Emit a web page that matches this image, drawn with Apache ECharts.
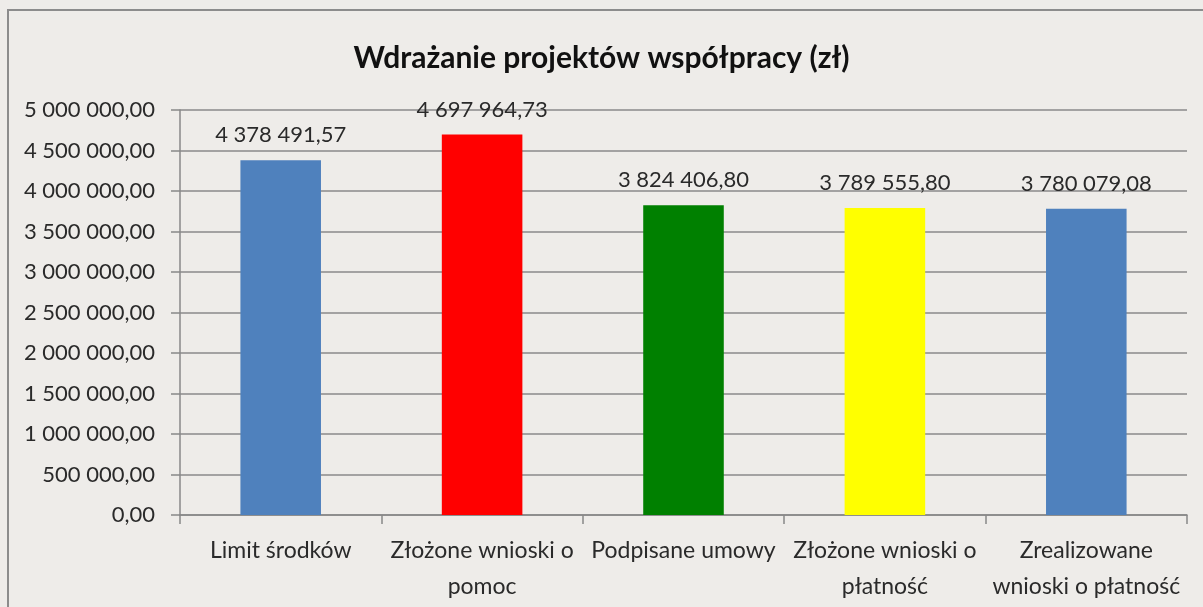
<!DOCTYPE html>
<html>
<head>
<meta charset="utf-8">
<script src="https://cdn.jsdelivr.net/npm/echarts@6/dist/echarts.min.js"></script>
<style>
  html, body { margin: 0; padding: 0; background: #eeece9; }
  #chart { width: 1203px; height: 607px; }
</style>
</head>
<body>
<div id="chart"></div>
<script>
var categories = ['Limit środków', 'Złożone wnioski o\npomoc', 'Podpisane umowy', 'Złożone wnioski o\npłatność', 'Zrealizowane\nwnioski o płatność'];
var values = [4378491.57, 4697964.73, 3824406.80, 3789555.80, 3780079.08];
var barColors = ['#4f81bd', '#ff0000', '#008000', '#ffff00', '#4f81bd'];

// format like 4 378 491,57
function plNumber(v) {
    var parts = v.toFixed(2).split('.');
    var intPart = parts[0].replace(/\B(?=(\d{3})+(?!\d))/g, ' ');
    return intPart + ',' + parts[1];
}

var myChart = echarts.init(document.getElementById('chart'));
var font = 'Lato, "Open Sans", sans-serif';

var option = {
    backgroundColor: '#eeece9',
    animation: false,
    textStyle: { fontFamily: font },
    title: {
        text: 'Wdrażanie projektów współpracy (zł)',
        left: 'center',
        top: 38,
        textStyle: { fontFamily: font, fontSize: 30, fontWeight: 'bold', color: '#111' }
    },
    graphic: [{
        type: 'rect',
        shape: { x: 8, y: 10, width: 1300, height: 700 },
        style: { fill: null, stroke: '#8c8c8c', lineWidth: 2 }
    }],
    grid: { left: 180, right: 16, top: 110, bottom: 92 },
    xAxis: {
        type: 'category',
        data: categories,
        axisLine: { lineStyle: { color: '#888', width: 1.5 } },
        axisTick: { show: true, length: 9, alignWithLabel: false, lineStyle: { color: '#888', width: 1.5 } },
        axisLabel: { fontFamily: font, fontSize: 23, color: '#2a2a2a', margin: 18, lineHeight: 36, interval: 0 }
    },
    yAxis: {
        type: 'value',
        min: 0,
        max: 5000000,
        interval: 500000,
        axisLine: { show: true, lineStyle: { color: '#888', width: 1.5 } },
        axisTick: { show: true, length: 9, lineStyle: { color: '#888', width: 1.5 } },
        splitLine: { lineStyle: { color: '#8a8a8a', width: 1.5 } },
        axisLabel: {
            fontFamily: font, fontSize: 22, color: '#2a2a2a', margin: 25,
            formatter: function (v) { return plNumber(v); }
        }
    },
    series: [{
        type: 'bar',
        barWidth: '40%',
        data: values.map(function (v, i) {
            return { value: v, itemStyle: { color: barColors[i] } };
        }),
        label: {
            show: true,
            position: 'top',
            distance: 14,
            fontFamily: font,
            fontSize: 22,
            color: '#2a2a2a',
            formatter: function (p) { return plNumber(p.value); }
        }
    }]
};

myChart.setOption(option);
window.addEventListener('resize', function () {
    myChart.resize();
});
</script>
</body>
</html>
